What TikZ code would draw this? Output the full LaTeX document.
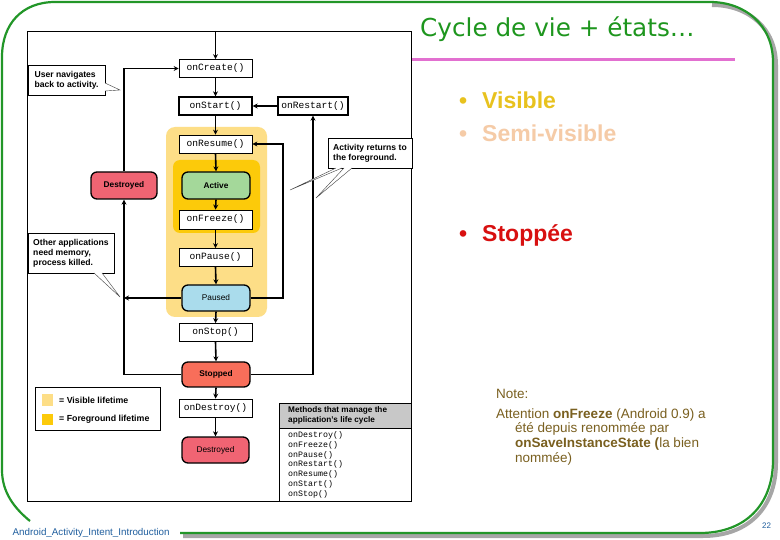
\documentclass[tikz,border=0pt]{standalone}
\usepackage{fontspec}
\setmainfont{Liberation Sans}
\newfontfamily\monofont{Liberation Mono}
\newfontfamily\titlefont{DejaVu Sans}
\usetikzlibrary{arrows.meta}
\definecolor{frameGreen}{RGB}{34,150,40}
\definecolor{titleGreen}{RGB}{30,150,30}
\definecolor{pinkLine}{RGB}{226,112,208}
\definecolor{visibleC}{RGB}{253,222,135}
\definecolor{foregroundC}{RGB}{252,202,10}
\definecolor{activeC}{RGB}{164,216,154}
\definecolor{pausedC}{RGB}{170,220,236}
\definecolor{stoppedC}{RGB}{248,110,90}
\definecolor{destroyedC}{RGB}{240,100,115}
\definecolor{headGray}{RGB}{200,200,200}
\definecolor{bulletVis}{RGB}{232,194,30}
\definecolor{bulletSemi}{RGB}{245,203,167}
\definecolor{bulletStop}{RGB}{216,16,16}
\definecolor{noteC}{RGB}{122,96,32}
\definecolor{footBlue}{RGB}{31,94,158}
\begin{document}
\begin{tikzpicture}[x=1pt,y=-1pt,
  mbox/.style={draw, fill=white, line width=0.7pt, minimum width=73pt, minimum height=18pt, inner sep=0pt, font=\monofont\fontsize{9.6}{10}\selectfont},
  mboxb/.style={mbox, line width=1.3pt},
  state/.style={draw, line width=1.3pt, rounded corners=6pt, minimum width=68pt, minimum height=26pt, inner sep=0pt, font=\fontsize{8.3}{9}\selectfont\bfseries},
  callout/.style={draw, fill=white, line width=0.7pt, align=left, inner sep=0pt, font=\fontsize{8.6}{10.2}\selectfont\bfseries},
  wedge/.style={draw=black!75, fill=white, line width=0.4pt},
  arr/.style={line width=1.6pt, -{Stealth[length=5pt,width=5pt]}},
  plain/.style={inner sep=0pt, anchor=base west},
  ]
\useasboundingbox (0,0) rectangle (780,540);
\fill[white] (0,0) rectangle (780,540);

% slide frame
\draw[gray!70, line width=4pt] (712,5) .. controls (748,5) and (776,28) .. (776,65) -- (776,463) .. controls (776,508) and (748,536) .. (703,536) -- (183,536);
\draw[frameGreen, line width=2.2pt] (180,533) -- (700,533) .. controls (745,533) and (773,505) .. (773,460) -- (773,62) .. controls (773,25) and (745,2) .. (710,2) -- (55,2) .. controls (22,2) and (2,24) .. (2,57) -- (2,470) .. controls (2,492) and (14,508) .. (30,521);

% title
\node[plain, font=\titlefont\fontsize{24.7}{26}\selectfont, text=titleGreen] (title) at (420,37) {Cycle de vie + états…};
\draw[pinkLine, line width=3pt] (411,60) -- (735,60);

% bullets
\node[plain, font=\fontsize{23}{26}\selectfont\bfseries, text=bulletVis] (b1) at (459,108.3) {•};
\node[plain, font=\fontsize{23}{26}\selectfont\bfseries, text=bulletVis] (t1) at (482,108.3) {Visible};
\node[plain, font=\fontsize{23}{26}\selectfont\bfseries, text=bulletSemi] (b2) at (459,141.7) {•};
\node[plain, font=\fontsize{23}{26}\selectfont\bfseries, text=bulletSemi] (t2) at (482,141.7) {Semi-visible};
\node[plain, font=\fontsize{23}{26}\selectfont\bfseries, text=bulletStop] (b3) at (459,241.7) {•};
\node[plain, font=\fontsize{23}{26}\selectfont\bfseries, text=bulletStop] (t3) at (482,241.7) {Stoppée};

% note
\node[plain, font=\fontsize{13.5}{15}\selectfont, text=noteC] (n0) at (496,398.3) {Note:};
\node[plain, font=\fontsize{13.5}{15}\selectfont, text=noteC] (n1) at (496,418.3) {Attention \textbf{onFreeze} (Android 0.9) a};
\node[plain, font=\fontsize{13.5}{15}\selectfont, text=noteC] (n2) at (515,432.7) {été depuis renommée par};
\node[plain, font=\fontsize{13.5}{15}\selectfont, text=noteC] (n3) at (515,447.3) {\textbf{onSaveInstanceState (}la bien};
\node[plain, font=\fontsize{13.5}{15}\selectfont, text=noteC] (n4) at (515,462.7) {nommée)};

% footer
\node[plain, font=\fontsize{9.8}{10}\selectfont, text=footBlue] (foot) at (12.5,535) {Android\_Activity\_Intent\_Introduction};
\node[plain, font=\fontsize{8}{9}\selectfont, text=footBlue] (pnum) at (762,528) {22};

% diagram frame
\draw[line width=0.8pt] (27,31) rectangle (411,501);

% lifetimes
\fill[visibleC, rounded corners=9pt] (166,127) rectangle (267,317);
\fill[foregroundC, rounded corners=7pt] (173,160) rectangle (260,233);

% method boxes & states
\node[mbox] (oncreate) at (215.5,68.5) {onCreate()};
\node[mboxb] (onstart) at (215.5,106) {onStart()};
\node[mboxb, minimum width=70pt] (onrestart) at (313,106) {onRestart()};
\node[mbox] (onresume) at (215.5,144) {onResume()};
\node[state, fill=activeC, minimum height=27pt] (active) at (216,185.5) {Active};
\node[mbox, minimum height=19pt] (onfreeze) at (215.5,219.5) {onFreeze()};
\node[mbox] (onpause) at (215.5,257.5) {onPause()};
\node[state, fill=pausedC, font=\fontsize{8.3}{9}\selectfont] (paused) at (216,298) {Paused};
\node[mbox] (onstop) at (215.5,332.5) {onStop()};
\node[state, fill=stoppedC, minimum height=25pt] (stopped) at (216,374.5) {Stopped};
\node[mbox] (ondestroy) at (215.5,408) {onDestroy()};
\node[state, fill=destroyedC, minimum width=67pt, font=\fontsize{8.3}{9}\selectfont] (destroyedB) at (215.5,450) {Destroyed};
\node[state, fill=destroyedC, minimum width=66pt, minimum height=27pt] (destroyedL) at (124,185.5) {Destroyed};

% spine
\coordinate (topin) at (215.5,31);
\draw[arr] (topin) -- (oncreate.north);
\draw[arr] (oncreate.south) -- (onstart.north);
\draw[arr] (onstart.south) -- (onresume.north);
\draw[arr] (onresume.south) -- (active.north);
\draw[arr] (active.south) -- (onfreeze.north);
\draw[arr] (onfreeze.south) -- (onpause.north);
\draw[arr] (onpause.south) -- (paused.north);
\draw[arr] (paused.south) -- (onstop.north);
\draw[arr] (onstop.south) -- (stopped.north);
\draw[arr] (stopped.south) -- (ondestroy.north);
\draw[arr] (ondestroy.south) -- (destroyedB.north);

% loops
\draw[arr] (destroyedL.north) |- (oncreate.west);
\draw[arr] (stopped.west) -| (destroyedL.south);
\draw[arr] (paused.west) -- (paused.west -| destroyedL.south);
\coordinate (rloop) at (283,298);
\draw[arr] (paused.east) -- (rloop) |- (onresume.east);
\draw[arr] (stopped.east) -| (onrestart.south);
\draw[arr] (onrestart.west) -- (onstart.east);

% callouts
\node[callout, minimum width=77pt, minimum height=30pt] (c1) at (66.5,80) {User navigates\\back to activity.};
\draw[wedge] (105,83) -- (120,90) -- (105,91);
\node[callout, minimum width=84pt, minimum height=30pt] (c2) at (370,153) {Activity returns to\\the foreground.};
\draw[wedge] (336,168) -- (290,190) -- (342,168);
\draw[wedge] (344,168) -- (316,198) -- (352,168);
\node[callout, minimum width=86pt, minimum height=40pt] (c3) at (71,253) {Other applications\\need memory,\\process killed.};
\draw[wedge] (94,273) -- (120,297) -- (102,273);

% legend
\node[draw, line width=1.4pt, minimum width=125pt, minimum height=43pt, anchor=north west, inner sep=0pt] (legend) at (35,387) {};
\node[fill=visibleC, minimum size=11pt, inner sep=0pt] (sw1) at (47.5,400) {};
\node[fill=foregroundC, minimum size=11pt, inner sep=0pt] (sw2) at (47.5,419) {};
\node[anchor=west, inner sep=0pt, font=\fontsize{8.8}{10}\selectfont\bfseries] (lg1) at (59,400) {= Visible lifetime};
\node[anchor=west, inner sep=0pt, font=\fontsize{8.8}{10}\selectfont\bfseries] (lg2) at (59,419) {= Foreground lifetime};

% methods box
\draw[line width=0.8pt] (279,403) rectangle (411,501);
\node[draw, line width=0.8pt, fill=headGray, minimum width=132pt, minimum height=25pt, anchor=north west, inner sep=0pt] (mhead) at (279,403) {};
\node[anchor=west, inner sep=0pt, align=left, font=\fontsize{8.2}{10.5}\selectfont\bfseries] (mheadt) at (288,415.5) {Methods that manage the\\application's life cycle};
\node[anchor=north west, inner sep=0pt, align=left, font=\monofont\fontsize{8.3}{9.9}\selectfont] (mlist) at (288,431) {onDestroy()\\onFreeze()\\onPause()\\onRestart()\\onResume()\\onStart()\\onStop()};
\end{tikzpicture}
\end{document}
